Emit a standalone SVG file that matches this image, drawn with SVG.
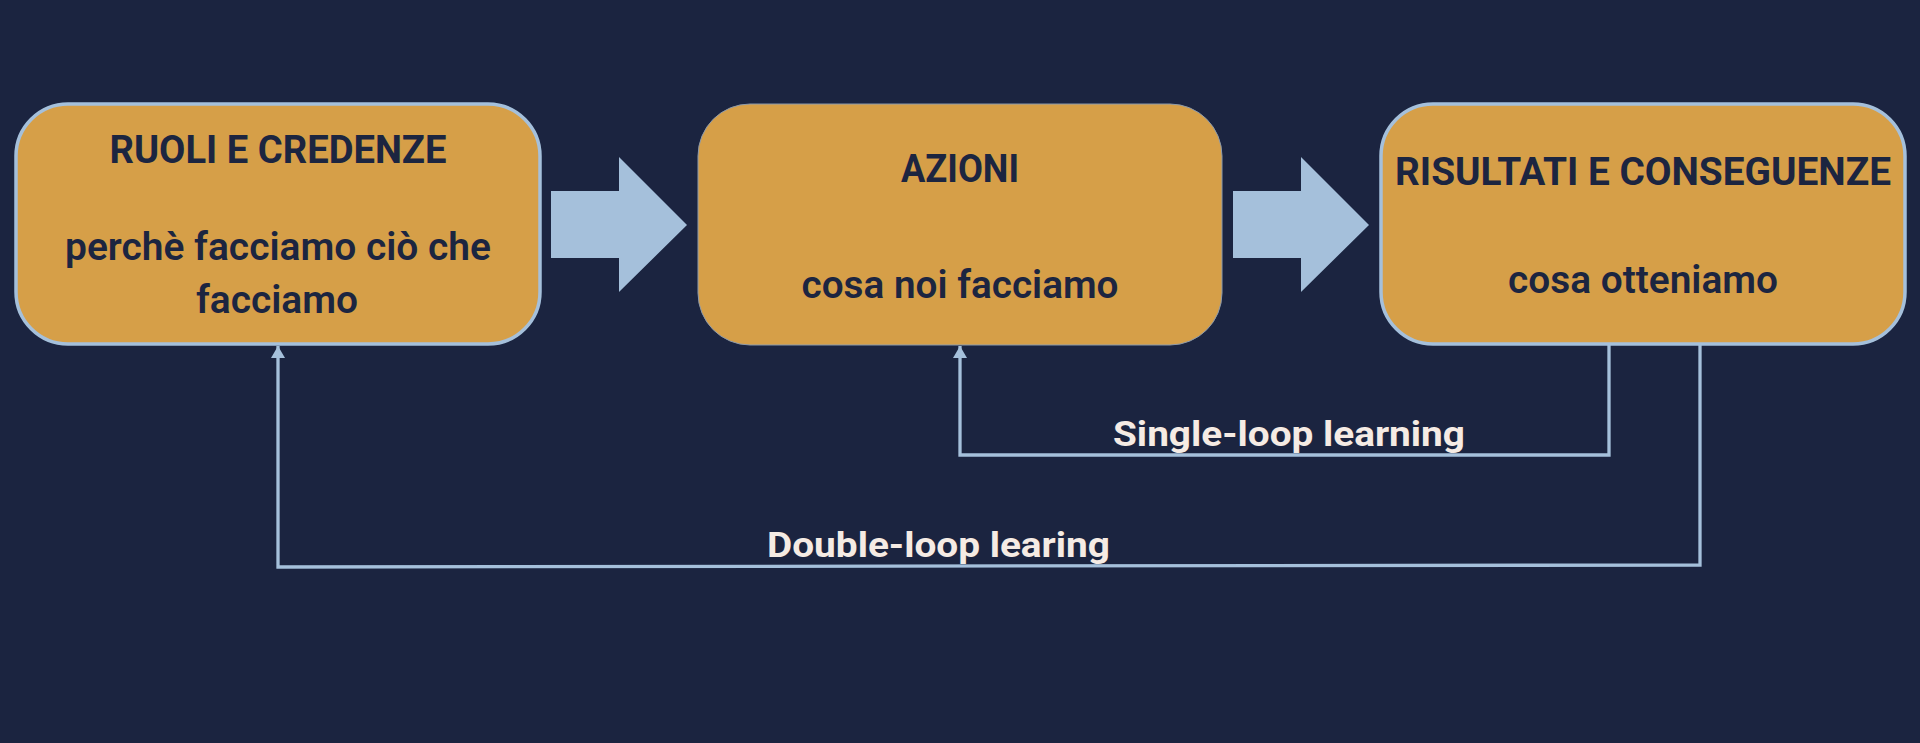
<svg xmlns="http://www.w3.org/2000/svg" width="1920" height="743" viewBox="0 0 1920 743">
<defs>
<style>
.box{fill:#d69f48;}
.bs{stroke:#a5c0db;stroke-width:3.5;}
.b2{stroke:#8c9aab;stroke-width:1;}
.t{font-family:Roboto,"Liberation Sans",sans-serif;font-weight:bold;font-size:38px;fill:#1c2540;text-anchor:middle;}
.bt{font-weight:600;}
.lbl{font-family:Roboto,"Liberation Sans",sans-serif;font-weight:bold;font-size:35px;fill:#f5ebe4;}
.ln{fill:none;stroke:#a5c0db;stroke-width:3.3;}
.big{fill:#a5c0db;}
</style>
<marker id="ah" markerWidth="12" markerHeight="14" refX="12" refY="7" orient="auto" markerUnits="userSpaceOnUse" viewBox="0 0 12 14">
<path d="M12,7 L0,0 L0,14 Z" fill="#a5c0db"/>
</marker>
</defs>
<rect width="1920" height="743" fill="#1b2440"/>

<g id="node-ruoli">
<rect class="box bs" x="16" y="104" width="524" height="240" rx="52" ry="52"/>
<text class="t" x="278" y="163" textLength="337" lengthAdjust="spacingAndGlyphs">RUOLI E CREDENZE</text>
<text class="t bt" x="278" y="260" textLength="426" lengthAdjust="spacingAndGlyphs">perchè facciamo ciò che</text>
<text class="t bt" x="277" y="313" textLength="162" lengthAdjust="spacingAndGlyphs">facciamo</text>
</g>

<g id="node-azioni">
<rect class="box b2" x="698" y="104" width="524" height="241" rx="52" ry="52"/>
<text class="t" x="960" y="182" textLength="118" lengthAdjust="spacingAndGlyphs">AZIONI</text>
<text class="t bt" x="960" y="298" textLength="317" lengthAdjust="spacingAndGlyphs">cosa noi facciamo</text>
</g>

<g id="node-risultati">
<rect class="box bs" x="1381" y="104" width="524" height="240" rx="52" ry="52"/>
<text class="t" x="1643" y="185" textLength="496" lengthAdjust="spacingAndGlyphs">RISULTATI E CONSEGUENZE</text>
<text class="t bt" x="1643" y="293" textLength="270" lengthAdjust="spacingAndGlyphs">cosa otteniamo</text>
</g>

<g id="connectors">
<polygon class="big" points="551,191 619,191 619,157 687,225 619,292 619,258 551,258"/>
<polygon class="big" points="1233,191 1301,191 1301,157 1369,225 1301,292 1301,258 1233,258"/>
<polyline class="ln" points="1609,345 1609,455 960,455 960,346" marker-end="url(#ah)"/>
<polyline class="ln" points="1700,345 1700,565 278,567 278,346" marker-end="url(#ah)"/>
<text class="lbl" x="1113" y="446" textLength="352" lengthAdjust="spacingAndGlyphs">Single-loop learning</text>
<text class="lbl" x="767" y="557" textLength="343" lengthAdjust="spacingAndGlyphs">Double-loop learing</text>
</g>
</svg>
